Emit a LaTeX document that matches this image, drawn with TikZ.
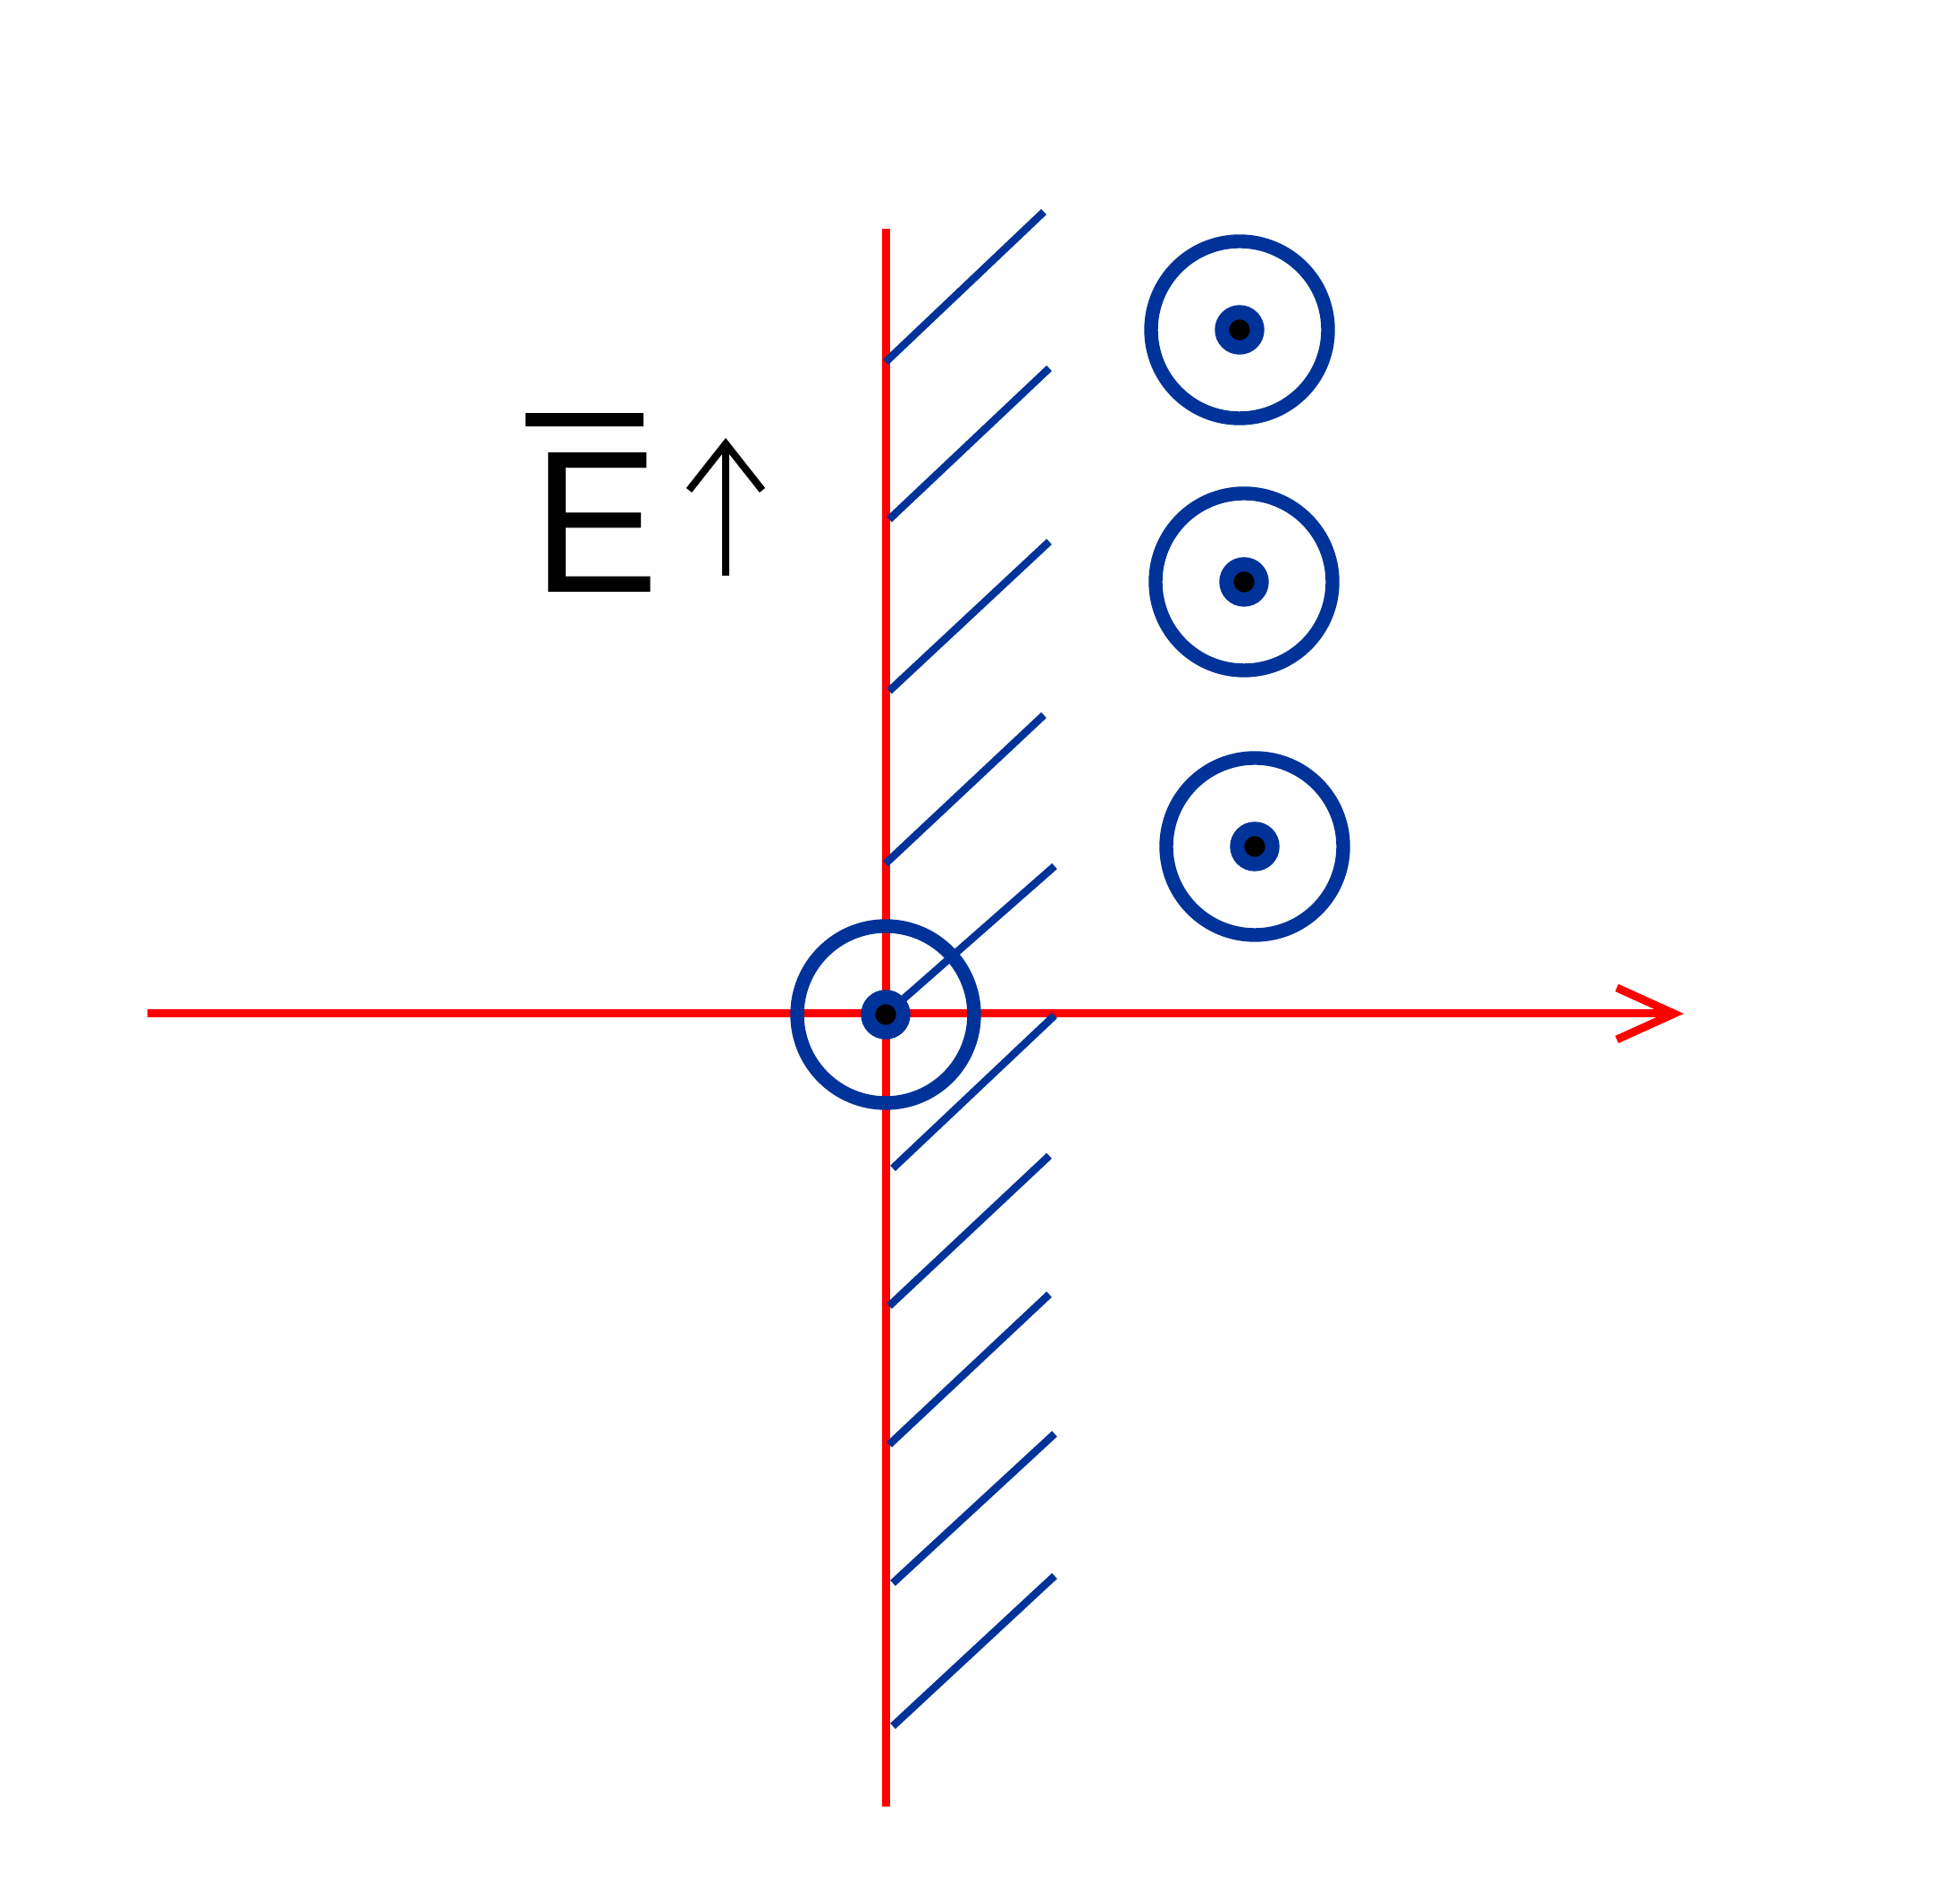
\documentclass[tikz,border=0pt]{standalone}
\usepackage{fontspec}
\setmainfont{Liberation Sans}
\usepackage{xcolor}
\usepackage{tikz}
\usetikzlibrary{arrows.meta, positioning, calc}
\definecolor{wireblue}{HTML}{003399}

\begin{document}
\begin{tikzpicture}[
    axis/.style={draw=red, line width=0.09cm},
    hatch/.style={draw=wireblue, line width=0.085cm},
    ring/.style={circle, draw=wireblue, line width=0.154cm, minimum size=1.98cm, inner sep=0pt},
    wire/.style={circle, draw=wireblue, fill=black, line width=0.16cm, minimum size=0.394cm, inner sep=0pt},
    bar/.style={line width=0.15cm},
    uparrow/.style={-{Straight Barb[length=5.2mm, width=8.2mm]}, line width=0.08cm}
]
\useasboundingbox (0,0) rectangle (21.73,21.30);

% axes
\coordinate (xl) at (1.65,9.96);
\coordinate (xr) at (18.84,9.96);
\coordinate (yt) at (9.91,18.74);
\coordinate (yb) at (9.91,1.09);
\draw[axis] (yb) -- (yt);
\draw[axis, -{Straight Barb[length=6.4mm, width=5.8mm]}] (xl) -- (xr);

% hatching of the plane
\draw[hatch] (9.91,17.25) -- (11.68,18.93);
\draw[hatch] (9.95,15.49) -- (11.74,17.18);
\draw[hatch] (9.95,13.57) -- (11.74,15.24);
\draw[hatch] (9.91,11.64) -- (11.68,13.30);
\draw[hatch] (9.91,9.95) -- (11.80,11.61);
\draw[hatch] (9.99,8.23) -- (11.80,9.94);
\draw[hatch] (9.95,6.69) -- (11.74,8.37);
\draw[hatch] (9.95,5.14) -- (11.74,6.82);
\draw[hatch] (9.99,3.59) -- (11.80,5.26);
\draw[hatch] (9.99,1.99) -- (11.80,3.67);

% currents out of the page
\node[ring] (r0) at (9.91,9.95) {};
\node[wire] (w0) at (r0.center) {};
\node[ring] (r1) at (13.87,17.61) {};
\node[wire] (w1) at (r1.center) {};
\node[ring] (r2) at (13.92,14.79) {};
\node[wire] (w2) at (r2.center) {};
\node[ring] (r3) at (14.04,11.83) {};
\node[wire] (w3) at (r3.center) {};

% field label
\node[font=\fontsize{64.5}{65}\selectfont, inner sep=0pt, xscale=0.93] (elabel) at (6.665,15.455) {E};
\coordinate (bl) at (5.88,16.605);
\coordinate (br) at (7.20,16.605);
\draw[bar] (bl) -- (br);
\coordinate (eb) at (8.12,14.86);
\coordinate (et) at (8.12,16.40);
\draw[uparrow] (eb) -- (et);
\end{tikzpicture}
\end{document}
